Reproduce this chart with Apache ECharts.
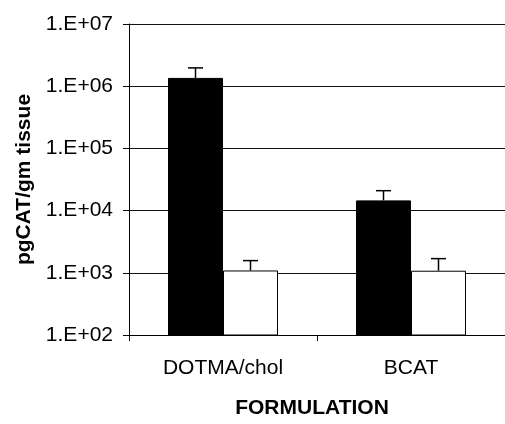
<!DOCTYPE html>
<html>
<head>
<meta charset="utf-8">
<script src="https://cdn.jsdelivr.net/npm/echarts@6/dist/echarts.min.js"></script>
<style>html,body{margin:0;padding:0;background:#fff;}#c{width:505px;height:424px;}</style>
</head>
<body>
<div id="c"></div>
<script>
const categories = ['DOTMA/chol', 'BCAT'];
const blackValues = [1.36e6, 1.46e4];
const blackErrTop = [1.97e6, 2.09e4];
const whiteValues = [1.09e3, 1.08e3];
const whiteErrTop = [1.57e3, 1.69e3];
const yTicks = [1e2, 1e3, 1e4, 1e5, 1e6, 1e7];

const BAR_W = 55;
const FONT = 'Liberation Sans, Arial, sans-serif';

function errSeries(values, tops, sign) {
  return {
    type: 'custom',
    z: 5,
    data: values.map((v, i) => [i, v, tops[i]]),
    encode: { x: 0, y: [1, 2] },
    renderItem: function (params, api) {
      const lo = api.coord([api.value(0), api.value(1)]);
      const hi = api.coord([api.value(0), api.value(2)]);
      const x = lo[0] + sign * BAR_W / 2;
      const cap = 7.5;
      return {
        type: 'group',
        children: [
          { type: 'line', shape: { x1: x, y1: lo[1], x2: x, y2: hi[1] }, style: { stroke: '#000', lineWidth: 1.5 } },
          { type: 'line', shape: { x1: x - cap, y1: hi[1], x2: x + cap, y2: hi[1] }, style: { stroke: '#000', lineWidth: 1.5 } }
        ]
      };
    }
  };
}

const chart = echarts.init(document.getElementById('c'));
chart.setOption({
  animation: false,
  backgroundColor: '#fff',
  grid: { left: 129, right: -6, top: 24, bottom: 88, containLabel: false },
  xAxis: {
    type: 'category',
    data: categories,
    name: 'FORMULATION',
    nameLocation: 'middle',
    nameGap: 63,
    nameTextStyle: { fontFamily: FONT, fontSize: 21, fontWeight: 'bold', color: '#000', padding: [0, 10, 0, 0] },
    axisLine: { lineStyle: { color: '#000', width: 1 } },
    axisTick: { show: true, length: 6, lineStyle: { color: '#000' } },
    axisLabel: { fontFamily: FONT, fontSize: 21, color: '#000', margin: 23 }
  },
  yAxis: {
    type: 'log',
    logBase: 10,
    min: yTicks[0],
    max: yTicks[yTicks.length - 1],
    name: 'pgCAT/gm tissue',
    nameLocation: 'middle',
    nameGap: 90,
    nameTextStyle: { fontFamily: FONT, fontSize: 21, fontWeight: 'bold', color: '#000' },
    axisLine: { show: true, lineStyle: { color: '#000', width: 1 } },
    axisTick: { show: true, length: 6, lineStyle: { color: '#000' } },
    splitLine: { show: true, lineStyle: { color: '#111', width: 1 } },
    axisLabel: {
      fontFamily: FONT, fontSize: 21, color: '#000', margin: 16,
      formatter: function (v) {
        const e = Math.round(Math.log10(v));
        return '1.E+' + (e < 10 ? '0' + e : e);
      }
    }
  },
  series: [
    {
      type: 'bar', data: blackValues, barWidth: BAR_W, barGap: '0%',
      itemStyle: { color: '#000', borderColor: '#000', borderWidth: 1 }
    },
    {
      type: 'bar', data: whiteValues, barWidth: BAR_W, barGap: '0%',
      itemStyle: { color: '#fff', borderColor: '#000', borderWidth: 1 }
    },
    errSeries(blackValues, blackErrTop, -1),
    errSeries(whiteValues, whiteErrTop, 1)
  ]
});
</script>
</body>
</html>
